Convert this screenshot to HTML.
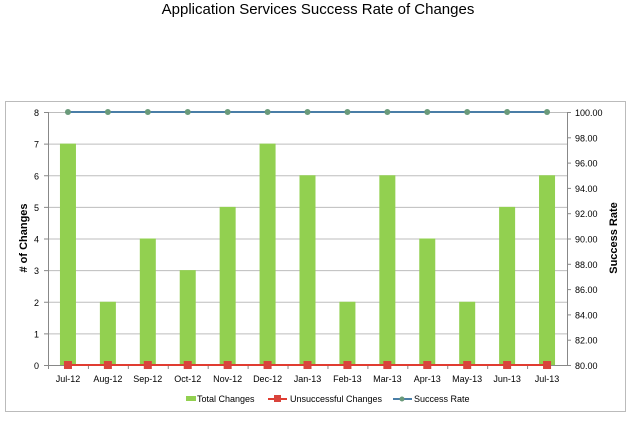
<!DOCTYPE html>
<html><head><meta charset="utf-8"><style>
body{margin:0;background:#fff;width:636px;height:417px;overflow:hidden;font-family:"Liberation Sans",sans-serif}
</style></head><body>
<svg width="636" height="417" xmlns="http://www.w3.org/2000/svg">
<text x="318" y="14" text-anchor="middle" font-size="15">Application Services Success Rate of Changes</text>
<rect x="5.5" y="101.5" width="620" height="310" fill="none" stroke="#bbb"/>
<g id="grid"></g><g id="bars"></g><g id="axes"></g><g id="lines"></g>
<text transform="translate(27,238) rotate(-90)" text-anchor="middle" font-size="11" font-weight="bold"># of Changes</text>
<text transform="translate(617,238) rotate(-90)" text-anchor="middle" font-size="11" font-weight="bold">Success Rate</text>
<g font-size="9">
<g><rect x="186" y="396" width="10" height="5" fill="#92d050"/><text x="197" y="402">Total Changes</text></g>
<g><line x1="268" y1="399" x2="287" y2="399" stroke="#e03c31" stroke-width="2"/><rect x="274" y="395" width="7" height="7" fill="#d9443c"/><text x="290" y="402">Unsuccessful Changes</text></g>
<g><line x1="393" y1="399" x2="412" y2="399" stroke="#4a7ea7" stroke-width="2"/><circle cx="402" cy="399" r="2.5" fill="#6a9a7a"/><text x="414" y="402">Success Rate</text></g>
</g>
</svg>
<script>
const categories=["Jul-12","Aug-12","Sep-12","Oct-12","Nov-12","Dec-12","Jan-13","Feb-13","Mar-13","Apr-13","May-13","Jun-13","Jul-13"];
const totalChanges=[7,2,4,3,5,7,6,2,6,4,2,5,6];
const unsuccessful=[0,0,0,0,0,0,0,0,0,0,0,0,0];
const successRate=[100,100,100,100,100,100,100,100,100,100,100,100,100];
const leftTicks=[0,1,2,3,4,5,6,7,8];
const rightTicks=["80.00","82.00","84.00","86.00","88.00","90.00","92.00","94.00","96.00","98.00","100.00"];
const NS="http://www.w3.org/2000/svg";
const X0=48,X1=567,Y0=365,Y1=112;
const bw=(X1-X0)/categories.length;
const xc=i=>X0+bw*(i+0.5);
const yl=v=>Y0-(v/8)*(Y0-Y1);
const yr=v=>Y0-((v-80)/20)*(Y0-Y1);
function mk(tag,attrs,parent){const e=document.createElementNS(NS,tag);for(const k in attrs)e.setAttribute(k,attrs[k]);document.getElementById(parent).appendChild(e);return e;}
leftTicks.forEach(t=>{
 const g=mk("line",{x1:X0,x2:X1,y1:yl(t)+.5,y2:yl(t)+.5,stroke:"#bdbdbd"},"grid");
 
 
 const tx=mk("text",{x:39,y:yl(t)+4,"text-anchor":"end","font-size":"9"},"axes");tx.textContent=t;
 
 
 mk("line",{x1:X0-4,x2:X0,y1:yl(t)+.5,y2:yl(t)+.5,stroke:"#888"},"axes");
});
rightTicks.forEach(t=>{
 const v=parseFloat(t);
 const tx=mk("text",{x:575,y:yr(v)+4,"font-size":"9"},"axes");tx.textContent=t;
 
 
 mk("line",{x1:X1,x2:X1+4,y1:yr(v)+.5,y2:yr(v)+.5,stroke:"#888"},"axes");
});
mk("line",{x1:X0+.5,x2:X0+.5,y1:Y1,y2:Y0,stroke:"#888"},"axes");
mk("line",{x1:X1+.5,x2:X1+.5,y1:Y1,y2:Y0,stroke:"#888"},"axes");
mk("line",{x1:X0,x2:X1,y1:Y0+.5,y2:Y0+.5,stroke:"#888"},"axes");
categories.forEach((c,i)=>{
 const b=mk("rect",{x:xc(i)-8,y:yl(totalChanges[i]),width:16,height:Y0-yl(totalChanges[i]),fill:"#92d050"},"bars");
 
 
 const tx=mk("text",{x:xc(i),y:382,"text-anchor":"middle","font-size":"9"},"axes");tx.textContent=c;
 
 
 mk("line",{x1:X0+bw*i+.5,x2:X0+bw*i+.5,y1:Y0,y2:Y0+4,stroke:"#888"},"axes");
});
const l1=mk("polyline",{points:unsuccessful.map((v,i)=>xc(i)+","+yl(v)).join(" "),fill:"none",stroke:"#e03c31","stroke-width":2},"lines");


const l2=mk("polyline",{points:successRate.map((v,i)=>xc(i)+","+yr(v)).join(" "),fill:"none",stroke:"#4a7ea7","stroke-width":2},"lines");


categories.forEach((c,i)=>{
 const m=mk("rect",{x:xc(i)-4,y:yl(unsuccessful[i])-4,width:8,height:8,fill:"#d9443c"},"lines");
 
 
 const p=mk("circle",{cx:xc(i),cy:yr(successRate[i]),r:3,fill:"#6a9a7a"},"lines");
 
 
});
</script>
</body></html>
